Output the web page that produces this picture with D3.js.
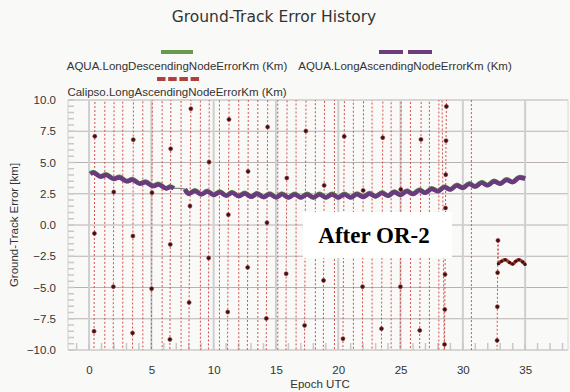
<!DOCTYPE html>
<html>
<head>
<meta charset="utf-8">
<script src="https://d3js.org/d3.v7.min.js"></script>
<style>
  body { margin: 0; background: #f9f9f7; }
  svg { display: block; font-family: "Liberation Sans", Arial, sans-serif; }
</style>
</head>
<body>
<svg id="chart" width="570" height="392"></svg>
<script>
// Tick values
const xTicks = [0, 5, 10, 15, 20, 25, 30, 35];
const yTicks = [-10, -7.5, -5, -2.5, 0, 2.5, 5, 7.5, 10];

const seriesNames = [
    'AQUA.LongDescendingNodeErrorKm (Km)',
    'AQUA.LongAscendingNodeErrorKm (Km)',
    'Calipso.LongAscendingNodeErrorKm (Km)'
];

// AQUA, first stretch (before the data gap)
const aquaEpochs1 = [0.1, 0.35, 0.9, 1.4, 1.95, 2.45, 3.0, 3.5, 4.05, 4.55, 5.1, 5.6, 6.15, 6.55, 6.8];
const aquaAsc1 = [4.08, 4.18, 3.88, 3.99, 3.69, 3.80, 3.50, 3.61, 3.31, 3.42, 3.12, 3.23, 2.93, 3.03, 2.93];
const aquaDesc1 = [4.12, 4.24, 3.90, 4.05, 3.71, 3.86, 3.52, 3.67, 3.33, 3.48, 3.14, 3.29, 2.95, 3.09, 2.95];

// AQUA, second stretch
const aquaEpochs2 = [7.7, 8.0, 8.5, 9.0, 9.5, 10.0, 10.5, 11.0, 11.5, 12.0, 12.5, 13.0, 13.5, 14.0, 14.5,
    15.0, 15.5, 16.0, 16.5, 17.0, 17.5, 18.0, 18.5, 19.0, 19.5, 20.0, 20.5, 21.0, 21.5, 22.0, 22.5,
    23.0, 23.5, 24.0, 24.5, 25.0, 25.5, 26.0, 26.5, 27.0, 27.5, 28.0, 28.5, 29.0, 29.5, 30.0, 30.5,
    31.0, 31.5, 32.0, 32.5, 33.0, 33.5, 34.0, 34.5, 35.0];
const aquaAsc2 = [2.85, 2.50, 2.72, 2.45, 2.67, 2.40, 2.62, 2.35, 2.57, 2.30, 2.52, 2.26, 2.49, 2.23, 2.46,
    2.21, 2.45, 2.20, 2.44, 2.20, 2.44, 2.20, 2.44, 2.20, 2.44, 2.20, 2.44, 2.20, 2.46, 2.24, 2.50,
    2.28, 2.55, 2.34, 2.62, 2.41, 2.69, 2.48, 2.77, 2.58, 2.88, 2.70, 3.01, 2.84, 3.15, 2.98, 3.27,
    3.08, 3.37, 3.18, 3.48, 3.30, 3.60, 3.43, 3.77, 3.70];
const aquaDesc2 = [2.87, 2.52, 2.78, 2.47, 2.73, 2.42, 2.68, 2.37, 2.63, 2.32, 2.58, 2.28, 2.55, 2.25, 2.52,
    2.23, 2.51, 2.22, 2.50, 2.22, 2.50, 2.22, 2.50, 2.22, 2.50, 2.22, 2.50, 2.22, 2.52, 2.26, 2.56,
    2.30, 2.61, 2.36, 2.68, 2.43, 2.75, 2.50, 2.83, 2.60, 2.94, 2.72, 3.07, 2.86, 3.21, 3.00, 3.33,
    3.10, 3.43, 3.20, 3.54, 3.32, 3.66, 3.45, 3.83, 3.74];

// Calipso samples [epoch, km]; values outside +-10 run off the plot
const calipso = [
    [0.38, -14], [0.40, -8.5], [0.43, -0.67], [0.46, 7.1], [0.49, 15],
    [1.26, 40], [1.27, -40],
    [1.93, -12.5], [1.95, -4.93], [1.98, 2.64], [2.01, 10.2],
    [2.70, 40], [2.71, -40],
    [3.47, -16.2], [3.49, -8.64], [3.52, -0.88], [3.55, 6.83], [3.58, 14.6],
    [4.31, 40], [4.32, -40],
    [5.00, -12.7], [5.02, -5.09], [5.05, 2.59], [5.08, 10.3],
    [5.86, 40], [5.87, -40],
    [6.46, -16.8], [6.49, -9.15], [6.52, -1.55], [6.55, 6.1], [6.58, 13.7],
    [7.38, 40], [7.39, -40],
    [8.00, -13.9], [8.03, -6.2], [8.10, 1.52], [8.17, 9.3], [8.20, 17],
    [8.93, 40], [8.94, -40],
    [9.58, -10.3], [9.60, -2.64], [9.63, 5.04], [9.66, 12.7],
    [10.46, 40], [10.47, -40],
    [11.10, -14.7], [11.13, -6.96], [11.18, 0.83], [11.23, 8.45], [11.27, 16.2],
    [12.01, 40], [12.02, -40],
    [12.70, -11], [12.73, -3.39], [12.76, 4.29], [12.79, 12],
    [13.54, 40], [13.55, -40],
    [14.20, -15.2], [14.23, -7.47], [14.28, 0.19], [14.33, 7.84], [14.37, 15.5],
    [15.14, 40], [15.15, -40],
    [15.80, -11.5], [15.82, -3.89], [15.87, 3.76], [15.90, 11.4],
    [16.61, 40], [16.62, -40],
    [17.28, -15.7], [17.30, -8.03], [17.35, -0.21], [17.40, 7.52], [17.44, 15.3],
    [18.16, 40], [18.17, -40],
    [18.80, -12], [18.82, -4.43], [18.87, 3.17], [18.90, 10.8],
    [19.69, 40], [19.70, -40],
    [20.36, -17], [20.38, -9.09], [20.43, -1.0], [20.48, 7.09], [20.52, 15],
    [21.21, 40], [21.22, -40],
    [21.93, -12.6], [21.95, -4.93], [22.00, 2.77], [22.03, 10.5],
    [22.71, 40], [22.72, -40],
    [23.45, -16], [23.47, -8.29], [23.52, -0.65], [23.57, 6.99], [23.60, 14.6],
    [24.24, 40], [24.25, -40],
    [24.97, -12.6], [24.99, -4.93], [25.02, 2.85], [25.05, 10.6],
    [25.79, 40], [25.80, -40],
    [26.52, -16], [26.54, -8.43], [26.59, -0.8], [26.64, 6.85], [26.68, 14.5],
    [27.31, 40], [27.32, -40],
    [28.07, -40], [28.08, 40],
    [28.52, -12.3], [28.53, -9.55], [28.55, -6.75], [28.57, -3.95], [28.59, -1.3],
    [28.61, 1.36], [28.63, 4.03], [28.65, 6.75], [28.68, 9.49], [28.70, 12.2],
    [30.68, 40], [30.69, -40],
    [32.74, -12], [32.75, -9.23], [32.77, -6.53], [32.79, -3.81], [32.82, -1.23]
];
// Calipso after the manoeuvre
const calipsoAfter = [
    [32.85, -3.1], [33.1, -2.9], [33.4, -2.78], [33.75, -3.0], [34.0, -3.12],
    [34.25, -2.9], [34.5, -2.78], [34.8, -2.95], [35.0, -3.15]
];

const svg = d3.select('#chart');
const W = 570, H = 392;
const margin = { top: 100, right: 2, bottom: 42, left: 68 };

const x = d3.scaleLinear().domain([-1.69, 38.44]).range([margin.left, W - margin.right]);
const y = d3.scaleLinear().domain([-10, 10]).range([H - margin.bottom, margin.top]);

svg.append('rect').attr('width', W).attr('height', H).attr('fill', '#f9f9f7');

// Title
svg.append('text')
    .attr('x', 274).attr('y', 22)
    .attr('text-anchor', 'middle')
    .style('font-family', '"DejaVu Sans", sans-serif')
    .style('font-size', '15.5px')
    .attr('fill', '#333')
    .text('Ground-Track Error History');

// Legend
const legend = svg.append('g').style('font-size', '11.5px').attr('fill', '#333');
legend.append('line').attr('x1', 161).attr('x2', 193).attr('y1', 52).attr('y2', 52)
    .attr('stroke', '#6a9a4c').attr('stroke-width', 4);
legend.append('text').attr('x', 177).attr('y', 70).attr('text-anchor', 'middle').text(seriesNames[0]);
legend.append('line').attr('x1', 379).attr('x2', 433).attr('y1', 52).attr('y2', 52)
    .attr('stroke', '#6c3d7c').attr('stroke-width', 4).attr('stroke-dasharray', '24,5');
legend.append('text').attr('x', 405).attr('y', 70).attr('text-anchor', 'middle').text(seriesNames[1]);
legend.append('line').attr('x1', 157).attr('x2', 199).attr('y1', 79).attr('y2', 79)
    .attr('stroke', '#b0403c').attr('stroke-width', 4).attr('stroke-dasharray', '8.5,2.7');
legend.append('text').attr('x', 177).attr('y', 96).attr('text-anchor', 'middle').text(seriesNames[2]);

// Grid
const plot = svg.append('g');
plot.selectAll('.hgrid').data(yTicks).enter().append('line')
    .attr('x1', x.range()[0]).attr('x2', x.range()[1])
    .attr('y1', d => y(d)).attr('y2', d => y(d))
    .attr('stroke', '#bab2b2').attr('stroke-width', 1);
plot.selectAll('.vgrid').data(xTicks).enter().append('line')
    .attr('x1', d => x(d)).attr('x2', d => x(d))
    .attr('y1', y(10)).attr('y2', y(-10))
    .attr('stroke', '#cfcfcf').attr('stroke-width', 2);
plot.append('line').attr('x1', x.range()[0]).attr('x2', x.range()[0])
    .attr('y1', y(10)).attr('y2', y(-10)).attr('stroke', '#d0d0d0');
plot.append('line').attr('x1', x.range()[1]).attr('x2', x.range()[1])
    .attr('y1', y(10)).attr('y2', y(-10)).attr('stroke', '#d8d8d8');

// Minor ticks
const yMinor = d3.range(-10, 10.01, 0.5);
plot.selectAll('.ymin').data(yMinor).enter().append('line')
    .attr('x1', x.range()[0]).attr('x2', x.range()[0] + 6)
    .attr('y1', d => y(d)).attr('y2', d => y(d))
    .attr('stroke', '#c8c8c8').attr('stroke-width', 1.5);
const xMinor = d3.range(-1, 38.5, 1);
plot.selectAll('.xmin').data(xMinor).enter().append('line')
    .attr('x1', d => x(d)).attr('x2', d => x(d))
    .attr('y1', y(-10)).attr('y2', y(-10) - 7)
    .attr('stroke', '#c8c8c8').attr('stroke-width', 1.5);

// Axis labels
svg.append('g').attr('transform', `translate(${x.range()[0]},0)`)
    .call(d3.axisLeft(y).tickValues(yTicks).tickFormat(d3.format('.1f')).tickSize(0).tickPadding(12))
    .call(g => g.select('.domain').remove())
    .selectAll('text').style('font-size', '11.5px').attr('fill', '#333').style('font-family', '"Liberation Sans", Arial, sans-serif');
svg.append('g').attr('transform', `translate(0,${y(-10)})`)
    .call(d3.axisBottom(x).tickValues(xTicks).tickSize(0).tickPadding(16))
    .call(g => g.select('.domain').remove())
    .selectAll('text').style('font-size', '11.5px').attr('fill', '#333').style('font-family', '"Liberation Sans", Arial, sans-serif');

svg.append('text').attr('transform', `translate(18,${(y(10) + y(-10)) / 2}) rotate(-90)`)
    .attr('text-anchor', 'middle').style('font-size', '11.5px').attr('fill', '#333')
    .text('Ground-Track Error [km]');
svg.append('text').attr('x', 320).attr('y', 388)
    .attr('text-anchor', 'middle').style('font-size', '11.5px').attr('fill', '#333')
    .text('Epoch UTC');

// Clip
svg.append('clipPath').attr('id', 'clip').append('rect')
    .attr('x', x.range()[0]).attr('y', y(10))
    .attr('width', x.range()[1] - x.range()[0]).attr('height', y(-10) - y(10));
const marks = svg.append('g').attr('clip-path', 'url(#clip)');

// Calipso dotted trace
const line = d3.line().x(d => x(d[0])).y(d => y(d[1]));
marks.append('path').datum(calipso)
    .attr('d', line).attr('fill', 'none')
    .attr('stroke', '#d25050').attr('stroke-width', 1).attr('stroke-dasharray', '2,2');
marks.append('path').datum([calipso[calipso.length - 1], calipsoAfter[0]])
    .attr('d', line).attr('fill', 'none')
    .attr('stroke', '#d25050').attr('stroke-width', 1).attr('stroke-dasharray', '2,2');

// AQUA traces
const aquaD = aquaEpochs1.map((e, i) => [e, aquaDesc1[i]]).concat(aquaEpochs2.map((e, i) => [e, aquaDesc2[i]]));
const aquaA1 = aquaEpochs1.map((e, i) => [e, aquaAsc1[i]]);
const aquaA2 = aquaEpochs2.map((e, i) => [e, aquaAsc2[i]]);
const wave = d3.line().x(d => x(d[0])).y(d => y(d[1])).curve(d3.curveCatmullRom);

marks.append('path').datum(aquaD).attr('d', wave).attr('fill', 'none')
    .attr('stroke', '#7a8a7a').attr('stroke-width', 1.2);
[aquaEpochs1.map((e, i) => [e, aquaDesc1[i]]), aquaEpochs2.map((e, i) => [e, aquaDesc2[i]])].forEach(seg => {
    marks.append('path').datum(seg).attr('d', wave).attr('fill', 'none')
        .attr('stroke', '#5f9a45').attr('stroke-width', 4.5);
});
[aquaA1, aquaA2].forEach(seg => {
    marks.append('path').datum(seg).attr('d', wave).attr('fill', 'none')
        .attr('stroke', '#6a3a7e').attr('stroke-width', 4.5);
});

// Calipso after manoeuvre
marks.append('path').datum(calipsoAfter).attr('d', wave).attr('fill', 'none')
    .attr('stroke', '#b83a36').attr('stroke-width', 3.5);
marks.selectAll('.after').data(calipsoAfter).enter().append('circle')
    .attr('cx', d => x(d[0])).attr('cy', d => y(d[1])).attr('r', 1.6).attr('fill', '#3a1212');

// Calipso points in range
marks.selectAll('.pt').data(calipso.filter(d => d[1] >= -10 && d[1] <= 10)).enter().append('circle')
    .attr('cx', d => x(d[0])).attr('cy', d => y(d[1])).attr('r', 2)
    .attr('fill', '#3a1212').attr('stroke', '#9a3030').attr('stroke-width', 0.6);

// Annotation
svg.append('rect').attr('x', 303).attr('y', 212).attr('width', 149).attr('height', 46).attr('fill', '#fff');
svg.append('text').attr('x', 374).attr('y', 243).attr('text-anchor', 'middle')
    .style('font-family', '"Liberation Serif", "Times New Roman", serif')
    .style('font-weight', 'bold').style('font-size', '23px').attr('fill', '#000')
    .text('After OR-2');
</script>
</body>
</html>
